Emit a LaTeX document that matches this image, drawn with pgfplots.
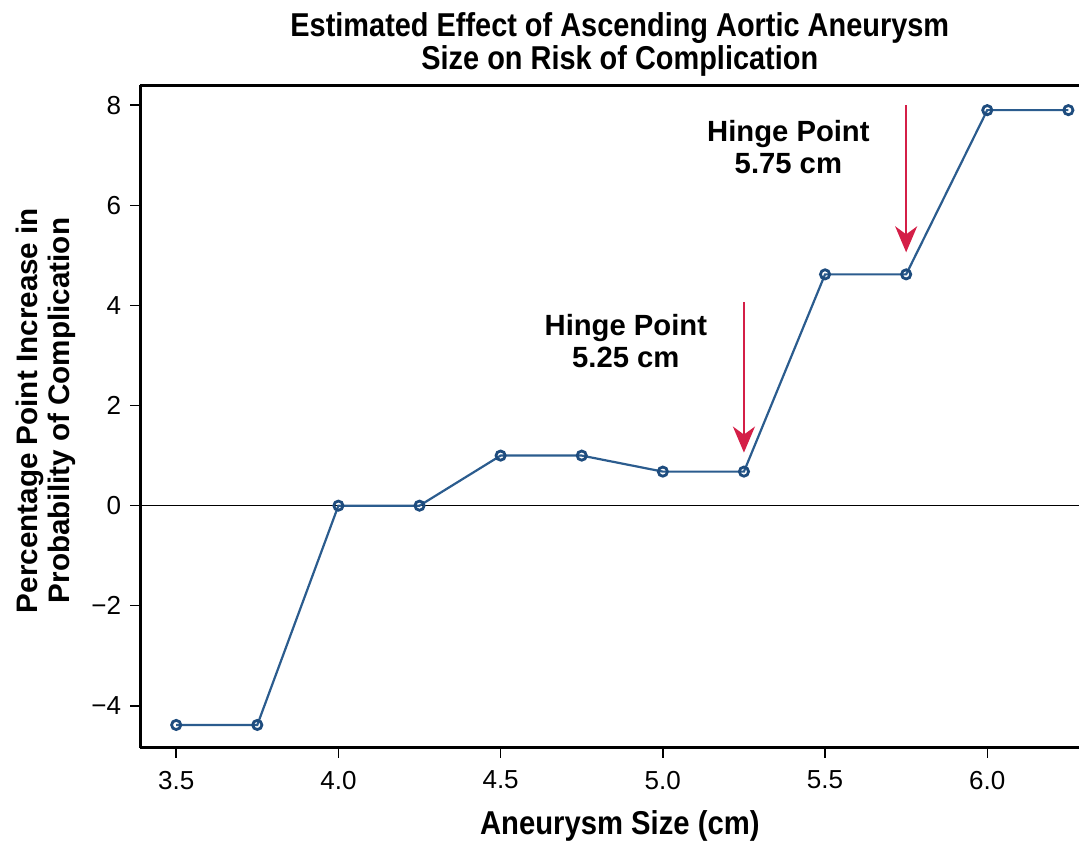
\documentclass[border=0pt]{standalone}
\usepackage{fontspec}
\setmainfont{Liberation Sans}
\newfontfamily\titfont[FakeStretch=0.875]{Liberation Sans}
\newfontfamily\xlfont[FakeStretch=0.885]{Liberation Sans}
\usepackage{pgfplots}
\pgfplotsset{compat=1.18}
\usetikzlibrary{arrows.meta}
\definecolor{lineblue}{HTML}{2B5C8E}
\definecolor{markblue}{HTML}{1E4C7E}
\definecolor{arrowred}{HTML}{D41F47}
\begin{document}
\begin{tikzpicture}
\begin{axis}[
  scale only axis,
  width=469pt, height=331pt,
  xmin=3.389, xmax=6.284,
  ymin=-4.84, ymax=8.4,
  axis x line=box,
  axis y line=left,
  y axis line style={-},
  x axis line style={-},
  xtick={3.5,4.0,4.5,5.0,5.5,6.0},
  xticklabels={3.5,4.0,4.5,5.0,5.5,6.0},
  ytick={-4,-2,0,2,4,6,8},
  yticklabels={−4,−2,0,2,4,6,8},
  tick align=outside,
  xtick pos=bottom, ytick pos=left,
  major tick length=5pt,
  axis line style={line width=1.5pt},
  tick style={black, line width=0.7pt},
  ticklabel style={font=\fontsize{13}{15}\selectfont},
  xticklabel style={yshift=-3pt},
  yticklabel style={xshift=-1pt},
  title={Estimated Effect of Ascending Aortic Aneurysm\\Size on Risk of Complication},
  title style={font=\titfont\bfseries\fontsize{16.5}{16.5}\selectfont, align=center, inner sep=0pt,
    at={(axis description cs:0.5,1)}, anchor=center, yshift=14.5pt, xshift=5pt},
  xlabel={Aneurysm Size (cm)},
  xlabel style={font=\xlfont\bfseries\fontsize{16.5}{18}\selectfont, inner sep=0pt,
    at={(axis description cs:0.5,0)}, anchor=center, yshift=-39pt, xshift=5pt},
  ylabel={Percentage Point Increase in\\Probability of Complication},
  ylabel style={font=\bfseries\fontsize{14.8}{16}\selectfont, align=center, inner sep=0pt,
    at={(axis description cs:0,0.5)}, anchor=center, yshift=47pt, xshift=3pt},
  clip=false,
]
\path (rel axis cs:0,0) ++(-70pt,-47.5pt);
\path (rel axis cs:1,1) ++(0.8pt,42.5pt);
\draw[black, line width=0.6pt] (axis cs:3.389,0) -- (axis cs:6.284,0);
\addplot[color=lineblue, line width=1.1pt, mark=o, mark size=2.3pt, mark options={draw=markblue, line width=1.4pt, fill=white}]
coordinates {
(3.5,-4.38) (3.75,-4.38) (4.0,0) (4.25,0) (4.5,1.0) (4.75,1.0)
(5.0,0.68) (5.25,0.68) (5.5,4.62) (5.75,4.62) (6.0,7.9) (6.25,7.9)
};
\draw[arrowred, line width=0.9pt, -{Stealth[length=13pt,width=11pt,inset=4pt]}] (axis cs:5.75,8.0) -- (axis cs:5.75,5.06);
\draw[arrowred, line width=0.9pt, -{Stealth[length=13pt,width=11pt,inset=4pt]}] (axis cs:5.25,4.06) -- (axis cs:5.25,1.06);
\node[font=\bfseries\fontsize{14.6}{16}\selectfont, align=center] at (axis cs:5.387,7.16) {Hinge Point\\5.75 cm};
\node[font=\bfseries\fontsize{14.6}{16}\selectfont, align=center] at (axis cs:4.886,3.29) {Hinge Point\\5.25 cm};
\end{axis}
\end{tikzpicture}
\end{document}
